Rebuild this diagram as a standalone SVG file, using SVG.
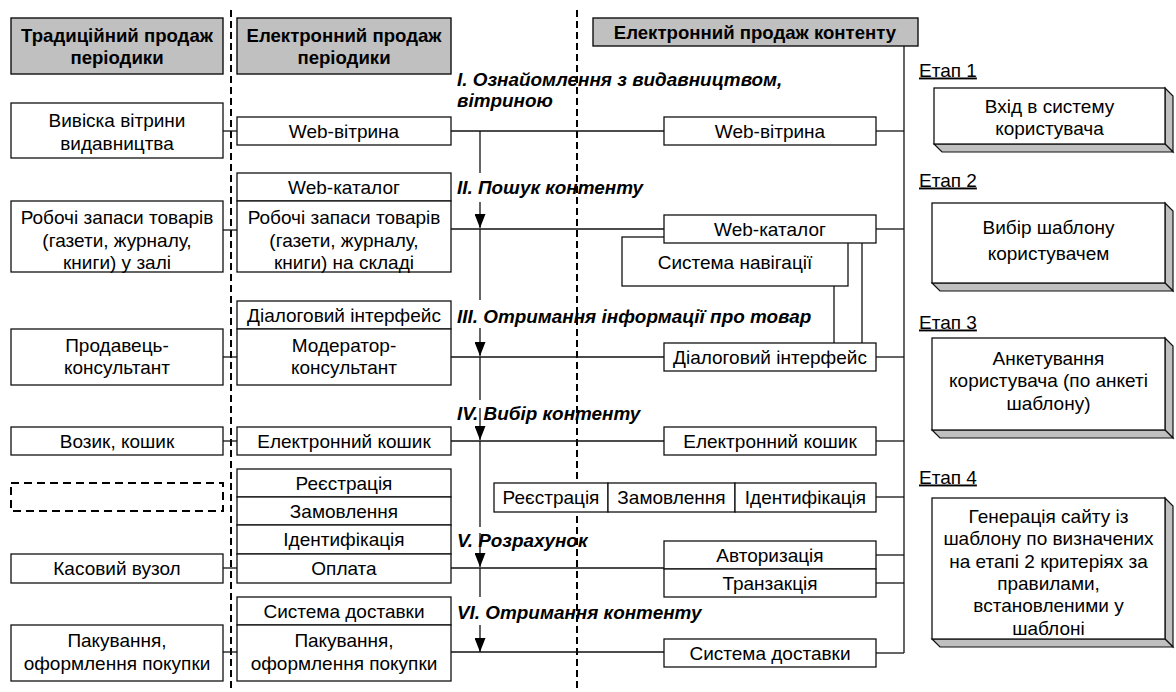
<svg xmlns="http://www.w3.org/2000/svg" width="1176" height="692" viewBox="0 0 1176 692">
<style>
.box{fill:#fff;stroke:#111;stroke-width:1.3}
.hdr{fill:#c0c0c0;stroke:#111;stroke-width:1.4}
.bev{fill:#c0c0c0;stroke:#111;stroke-width:1.2}
.t{font-family:"Liberation Sans",Arial,sans-serif;font-size:19px;fill:#000;text-anchor:middle}
.h{font-family:"Liberation Sans",Arial,sans-serif;font-size:18.6px;font-weight:bold;fill:#000;text-anchor:middle}
.l{font-family:"Liberation Sans",Arial,sans-serif;font-size:18.9px;font-weight:bold;font-style:italic;fill:#000}
.e{font-family:"Liberation Sans",Arial,sans-serif;font-size:19px;fill:#000;text-decoration:underline}
.c{stroke:#111;stroke-width:1.3;fill:none}
.d{stroke:#000;stroke-width:2;stroke-dasharray:7 4;fill:none}
</style>
<defs>
<marker id="ah" markerUnits="userSpaceOnUse" markerWidth="14" markerHeight="11" refX="14" refY="5.5" orient="auto" viewBox="0 0 14 11">
<path d="M0,0 L14,5.5 L0,11 Z" fill="#000"/>
</marker>
</defs>
<rect width="1176" height="692" fill="#fff"/>

<g id="dividers">
<line class="d" x1="231" y1="10" x2="231" y2="692"/>
<line class="d" x1="577" y1="10" x2="577" y2="692"/>
</g>

<g id="connectors">
<line class="c" x1="223" y1="131" x2="237" y2="131"/>
<line class="c" x1="223" y1="230" x2="237" y2="230"/>
<line class="c" x1="223" y1="357" x2="237" y2="357"/>
<line class="c" x1="223" y1="441" x2="237" y2="441"/>
<line class="c" x1="223" y1="568" x2="237" y2="568"/>
<line class="c" x1="223" y1="652" x2="237" y2="652"/>
<line class="c" x1="451" y1="131" x2="664" y2="131"/>
<line class="c" x1="451" y1="229" x2="664" y2="229"/>
<line class="c" x1="451" y1="357" x2="664" y2="357"/>
<line class="c" x1="451" y1="441" x2="664" y2="441"/>
<line class="c" x1="451" y1="568" x2="664" y2="568"/>
<line class="c" x1="451" y1="652" x2="664" y2="652"/>
<line class="c" x1="904" y1="46" x2="904" y2="653"/>
<line class="c" x1="876" y1="131" x2="904" y2="131"/>
<line class="c" x1="876" y1="229" x2="904" y2="229"/>
<line class="c" x1="876" y1="357" x2="904" y2="357"/>
<line class="c" x1="876" y1="441" x2="904" y2="441"/>
<line class="c" x1="876" y1="497" x2="904" y2="497"/>
<line class="c" x1="876" y1="555" x2="904" y2="555"/>
<line class="c" x1="876" y1="583" x2="904" y2="583"/>
<line class="c" x1="876" y1="653" x2="904" y2="653"/>
<line class="c" x1="834" y1="286" x2="834" y2="343"/>
<line class="c" x1="862" y1="243" x2="862" y2="343"/>
<line class="c" x1="480" y1="131" x2="480" y2="173"/>
<line class="c" x1="480" y1="202" x2="480" y2="228" marker-end="url(#ah)"/>
<line class="c" x1="480" y1="229" x2="480" y2="300"/>
<line class="c" x1="480" y1="328" x2="480" y2="356" marker-end="url(#ah)"/>
<line class="c" x1="480" y1="357" x2="480" y2="400"/>
<line class="c" x1="480" y1="408" x2="480" y2="440" marker-end="url(#ah)"/>
<line class="c" x1="480" y1="441" x2="480" y2="527"/>
<line class="c" x1="480" y1="533" x2="480" y2="567" marker-end="url(#ah)"/>
<line class="c" x1="480" y1="568" x2="480" y2="597"/>
<line class="c" x1="480" y1="625" x2="480" y2="652" marker-end="url(#ah)"/>
</g>

<g id="hdr-trad">
<rect class="hdr" x="11" y="18" width="212" height="56"/>
<text class="h" x="117" y="42">Традиційний продаж</text>
<text class="h" x="117" y="64">періодики</text>
</g>
<g id="hdr-el">
<rect class="hdr" x="237" y="18" width="214" height="56"/>
<text class="h" x="344" y="42">Електронний продаж</text>
<text class="h" x="344" y="64">періодики</text>
</g>
<g id="hdr-content">
<rect class="hdr" x="593" y="18" width="325" height="28"/>
<text class="h" x="755" y="38.5">Електронний продаж контенту</text>
</g>

<g id="l-vyviska">
<rect class="box" x="11" y="103" width="212" height="55"/>
<text class="t" x="117" y="127">Вивіска вітрини</text>
<text class="t" x="117" y="149.5">видавництва</text>
</g>
<g id="l-zapasy">
<rect class="box" x="11" y="201" width="212" height="71"/>
<text class="t" x="117" y="224">Робочі запаси товарів</text>
<text class="t" x="117" y="246.5">(газети, журналу,</text>
<text class="t" x="117" y="269">книги) у залі</text>
</g>
<g id="l-prodavets">
<rect class="box" x="11" y="329" width="212" height="56"/>
<text class="t" x="117" y="351.5">Продавець-</text>
<text class="t" x="117" y="374">консультант</text>
</g>
<g id="l-vozyk">
<rect class="box" x="11" y="427" width="212" height="28"/>
<text class="t" x="117" y="447.5">Возик, кошик</text>
</g>
<g id="l-empty">
<rect x="11" y="483" width="212" height="28" fill="none" stroke="#000" stroke-width="2" stroke-dasharray="8 5"/>
</g>
<g id="l-kasa">
<rect class="box" x="11" y="554" width="212" height="29"/>
<text class="t" x="117" y="575">Касовий вузол</text>
</g>
<g id="l-pakuvannia">
<rect class="box" x="11" y="625" width="212" height="56"/>
<text class="t" x="117" y="647">Пакування,</text>
<text class="t" x="117" y="670">оформлення покупки</text>
</g>

<g id="m-vitryna">
<rect class="box" x="237" y="117" width="214" height="28"/>
<text class="t" x="344" y="137.5">Web-вітрина</text>
</g>
<g id="m-katalog">
<rect class="box" x="237" y="173" width="214" height="28"/>
<text class="t" x="344" y="193.5">Web-каталог</text>
</g>
<g id="m-zapasy">
<rect class="box" x="237" y="201" width="214" height="71"/>
<text class="t" x="344" y="224">Робочі запаси товарів</text>
<text class="t" x="344" y="246.5">(газети, журналу,</text>
<text class="t" x="344" y="269">книги) на складі</text>
</g>
<g id="m-dialog">
<rect class="box" x="237" y="301" width="214" height="28"/>
<text class="t" x="344" y="321.5">Діалоговий інтерфейс</text>
</g>
<g id="m-moderator">
<rect class="box" x="237" y="329" width="214" height="56"/>
<text class="t" x="344" y="351.5">Модератор-</text>
<text class="t" x="344" y="374">консультант</text>
</g>
<g id="m-koshyk">
<rect class="box" x="237" y="427" width="214" height="28"/>
<text class="t" x="344" y="447.5">Електронний кошик</text>
</g>
<g id="m-reiestratsiia">
<rect class="box" x="237" y="469" width="214" height="28"/>
<text class="t" x="344" y="489.5">Реєстрація</text>
</g>
<g id="m-zamovlennia">
<rect class="box" x="237" y="497" width="214" height="28"/>
<text class="t" x="344" y="517.5">Замовлення</text>
</g>
<g id="m-identyfikatsiia">
<rect class="box" x="237" y="525" width="214" height="29"/>
<text class="t" x="344" y="546">Ідентифікація</text>
</g>
<g id="m-oplata">
<rect class="box" x="237" y="554" width="214" height="29"/>
<text class="t" x="344" y="575">Оплата</text>
</g>
<g id="m-dostavka">
<rect class="box" x="237" y="597" width="214" height="28"/>
<text class="t" x="344" y="617.5">Система доставки</text>
</g>
<g id="m-pakuvannia">
<rect class="box" x="237" y="625" width="214" height="56"/>
<text class="t" x="344" y="647">Пакування,</text>
<text class="t" x="344" y="670">оформлення покупки</text>
</g>

<g id="r-vitryna">
<rect class="box" x="664" y="117" width="212" height="28"/>
<text class="t" x="770" y="137.5">Web-вітрина</text>
</g>
<g id="r-navigatsiia">
<rect class="box" x="622" y="237" width="226" height="49"/>
<text class="t" x="735" y="268.5">Система навігації</text>
</g>
<g id="r-katalog">
<rect class="box" x="664" y="215" width="212" height="28"/>
<text class="t" x="770" y="235.5">Web-каталог</text>
</g>
<g id="r-dialog">
<rect class="box" x="664" y="343" width="212" height="28"/>
<text class="t" x="770" y="363.5">Діалоговий інтерфейс</text>
</g>
<g id="r-koshyk">
<rect class="box" x="664" y="427" width="212" height="28"/>
<text class="t" x="770" y="447.5">Електронний кошик</text>
</g>
<g id="r-reiestratsiia">
<rect class="box" x="494" y="483" width="114" height="29"/>
<text class="t" x="551" y="504">Реєстрація</text>
</g>
<g id="r-zamovlennia">
<rect class="box" x="608" y="483" width="127" height="29"/>
<text class="t" x="671.5" y="504">Замовлення</text>
</g>
<g id="r-identyfikatsiia">
<rect class="box" x="735" y="483" width="141" height="29"/>
<text class="t" x="805.5" y="504">Ідентифікація</text>
</g>
<g id="r-avtoryzatsiia">
<rect class="box" x="664" y="541" width="212" height="28"/>
<text class="t" x="770" y="561.5">Авторизація</text>
</g>
<g id="r-tranzaktsiia">
<rect class="box" x="664" y="569" width="212" height="28"/>
<text class="t" x="770" y="589.5">Транзакція</text>
</g>
<g id="r-dostavka">
<rect class="box" x="664" y="639" width="212" height="28"/>
<text class="t" x="770" y="659.5">Система доставки</text>
</g>

<g id="stage-labels">
<text class="l" x="457" y="86">I. Ознайомлення з видавництвом,</text>
<text class="l" x="457" y="106.5">вітриною</text>
<text class="l" x="457" y="193.5">II. Пошук контенту</text>
<text class="l" x="457" y="322.5">III. Отримання інформації про товар</text>
<text class="l" x="457" y="419.5">IV. Вибір контенту</text>
<text class="l" x="457" y="546.5">V. Розрахунок</text>
<text class="l" x="457" y="618.5">VI. Отримання контенту</text>
</g>

<g id="etap1">
<text class="e" x="919" y="76.5">Етап 1</text>
<polygon class="bev" points="1165,88 1173,96 1173,152 1165,144"/>
<polygon class="bev" points="934,144 1165,144 1173,152 942,152"/>
<rect class="box" x="934" y="88" width="231" height="56"/>
<text class="t" x="1049.5" y="112.5">Вхід в систему</text>
<text class="t" x="1049.5" y="134.5">користувача</text>
</g>
<g id="etap2">
<text class="e" x="919" y="186.5">Етап 2</text>
<polygon class="bev" points="1165,203 1173,211 1173,291 1165,283"/>
<polygon class="bev" points="932,283 1165,283 1173,291 940,291"/>
<rect class="box" x="932" y="203" width="233" height="80"/>
<text class="t" x="1048.5" y="233.5">Вибір шаблону</text>
<text class="t" x="1048.5" y="260">користувачем</text>
</g>
<g id="etap3">
<text class="e" x="919" y="328.5">Етап 3</text>
<polygon class="bev" points="1165,338 1173,346 1173,438 1165,430"/>
<polygon class="bev" points="932,430 1165,430 1173,438 940,438"/>
<rect class="box" x="932" y="338" width="233" height="92"/>
<text class="t" x="1048.5" y="364.5">Анкетування</text>
<text class="t" x="1048.5" y="387">користувача (по анкеті</text>
<text class="t" x="1048.5" y="409.5">шаблону)</text>
</g>
<g id="etap4">
<text class="e" x="919" y="483.5">Етап 4</text>
<polygon class="bev" points="1165,498 1173,506 1173,647 1165,639"/>
<polygon class="bev" points="932,639 1165,639 1173,647 940,647"/>
<rect class="box" x="932" y="498" width="233" height="141"/>
<text class="t" x="1048.5" y="523">Генерація сайту із</text>
<text class="t" x="1048.5" y="545.3">шаблону по визначених</text>
<text class="t" x="1048.5" y="567.6">на етапі 2 критеріях за</text>
<text class="t" x="1048.5" y="589.9">правилами,</text>
<text class="t" x="1048.5" y="612.2">встановленими у</text>
<text class="t" x="1048.5" y="634.5">шаблоні</text>
</g>
</svg>
